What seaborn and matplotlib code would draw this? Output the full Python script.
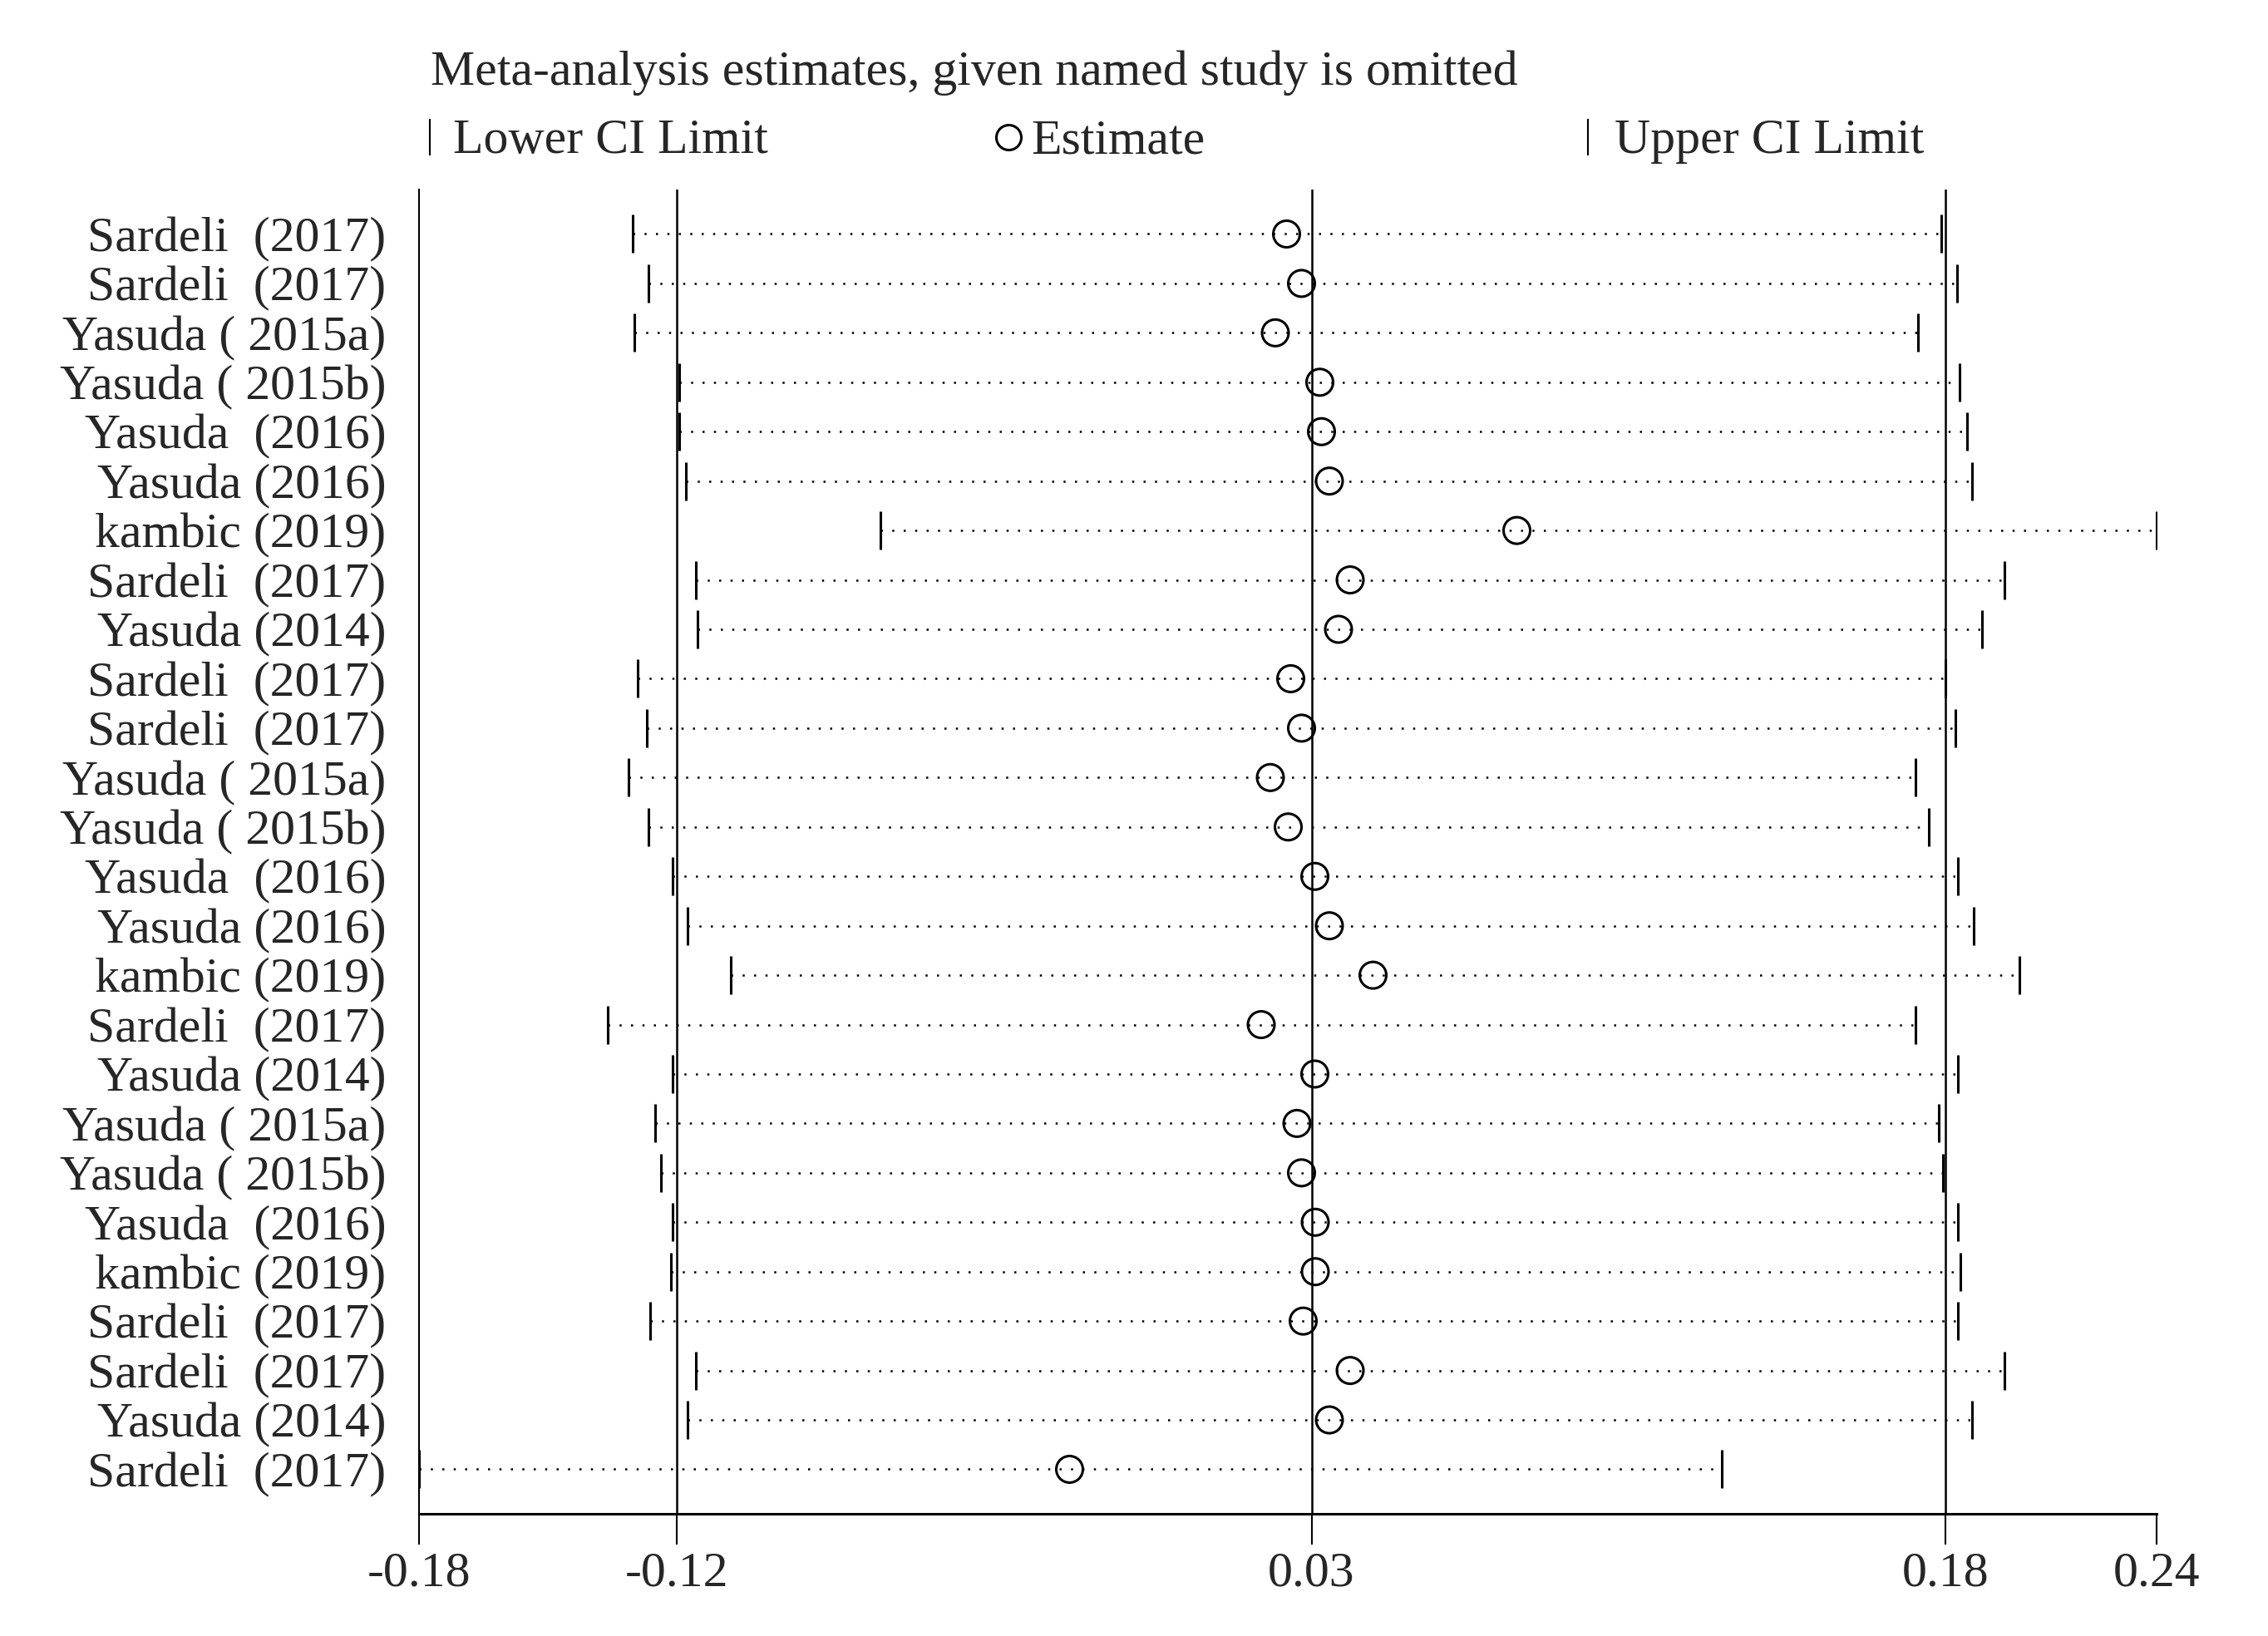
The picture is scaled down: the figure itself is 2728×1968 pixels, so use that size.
import numpy as np
import pandas as pd
import matplotlib
matplotlib.use('Agg')
import matplotlib.pyplot as plt
from matplotlib.lines import Line2D
import seaborn as sns

# study omitted in each row (top to bottom)
studies = ['Sardeli  (2017)', 'Sardeli  (2017)', 'Yasuda ( 2015a)', 'Yasuda ( 2015b)',
           'Yasuda  (2016)', 'Yasuda (2016)', 'kambic (2019)', 'Sardeli  (2017)',
           'Yasuda (2014)', 'Sardeli  (2017)', 'Sardeli  (2017)', 'Yasuda ( 2015a)',
           'Yasuda ( 2015b)', 'Yasuda  (2016)', 'Yasuda (2016)', 'kambic (2019)',
           'Sardeli  (2017)', 'Yasuda (2014)', 'Yasuda ( 2015a)', 'Yasuda ( 2015b)',
           'Yasuda  (2016)', 'kambic (2019)', 'Sardeli  (2017)', 'Sardeli  (2017)',
           'Yasuda (2014)', 'Sardeli  (2017)']

lower = [-0.1311, -0.1273, -0.1307, -0.1199, -0.1199, -0.1183, -0.0715, -0.1159,
         -0.1155, -0.1299, -0.1277, -0.1321, -0.1273, -0.1215, -0.1179, -0.1075,
         -0.1371, -0.1215, -0.1257, -0.1243, -0.1215, -0.1219, -0.1269, -0.1159,
         -0.1179, -0.1825]
estimate = [0.0263, 0.0299, 0.0236, 0.0343, 0.0347, 0.0366, 0.0817, 0.0416,
            0.0388, 0.0273, 0.0299, 0.0224, 0.0267, 0.0331, 0.0366, 0.0471,
            0.0202, 0.0331, 0.0288, 0.0299, 0.0332, 0.0332, 0.0303, 0.0416,
            0.0366, -0.0259]
upper = [0.1838, 0.1875, 0.1781, 0.1881, 0.1899, 0.1912, 0.2356, 0.1989,
         0.1935, 0.1848, 0.1871, 0.1775, 0.1807, 0.1878, 0.1915, 0.2026,
         0.1775, 0.1878, 0.1831, 0.1841, 0.1878, 0.1884, 0.1878, 0.1989,
         0.1912, 0.1309]

# pooled estimate and its CI (the vertical lines)
pooled = [-0.1204, 0.0323, 0.1848]
x_range = [-0.1825, 0.2356]
tick_values = [x_range[0], pooled[0], pooled[1], pooled[2], x_range[1]]
tick_labels = ['-0.18', '-0.12', '0.03', '0.18', '0.24']

df = pd.DataFrame({'study': studies, 'lower': lower, 'estimate': estimate, 'upper': upper})
df['row'] = np.arange(len(df))

sns.set_style('white')
plt.rcParams['font.family'] = ['Liberation Serif', 'DejaVu Serif']
plt.rcParams['font.size'] = 43

fig = plt.figure(figsize=(27.28, 19.68), dpi=100)
ax = fig.add_axes([0.18457, 0.0747, 0.76631, 0.80945])

for v in pooled:
    ax.axvline(v, color='black', lw=1.8, zorder=1)

# dotted CI lines, end ticks and estimate circles
ax.hlines(df['row'], df['lower'], df['upper'], colors='black',
          linestyles=(0, (1, 4.5)), lw=1.8, zorder=2)
ax.plot(df['lower'], df['row'], ls='none', marker='|', ms=33, mew=2.2, color='black')
ax.plot(df['upper'], df['row'], ls='none', marker='|', ms=33, mew=2.2, color='black')
sns.scatterplot(data=df, x='estimate', y='row', ax=ax, s=530, marker='o',
                color='black', edgecolor='black', linewidth=2.2, zorder=3, legend=False)
ax.collections[-1].set_facecolor('none')

ax.set_xlim(x_range)
ax.set_ylim(len(df) - 0.1, -0.9)
ax.set_xticks(tick_values, tick_labels)
ax.set_yticks(df['row'], df['study'])
ax.set_xlabel('')
ax.set_ylabel('')
ax.tick_params(axis='y', length=0, pad=28)
ax.tick_params(axis='x', length=26.6, width=1.5, pad=6, direction='out', bottom=True, color='black')
sns.despine(ax=ax, top=True, right=True)
ax.spines['left'].set_linewidth(1.5)
ax.spines['left'].set_color('black')
ax.spines['bottom'].set_linewidth(2.2)
ax.spines['bottom'].set_color('black')

# title and legend row
fig.text(0.1899, 0.9482, 'Meta-analysis estimates, given named study is omitted',
         ha='left', va='baseline')
leg_y = 0.9065
fig.add_artist(Line2D([0.1895], [0.9162], marker='|', ms=32, mew=1.5, color='black',
                      transform=fig.transFigure))
fig.text(0.1996, leg_y, 'Lower CI Limit', ha='left', va='baseline')
fig.add_artist(Line2D([0.4445], [0.9162], marker='o', ms=21.6, mew=2.2, mfc='none',
                      color='black', transform=fig.transFigure))
fig.text(0.4545, leg_y, 'Estimate', ha='left', va='baseline')
fig.add_artist(Line2D([0.7001], [0.9162], marker='|', ms=32, mew=1.5, color='black',
                      transform=fig.transFigure))
fig.text(0.7117, leg_y, 'Upper CI Limit', ha='left', va='baseline')

fig.savefig('out.png', dpi=100)
